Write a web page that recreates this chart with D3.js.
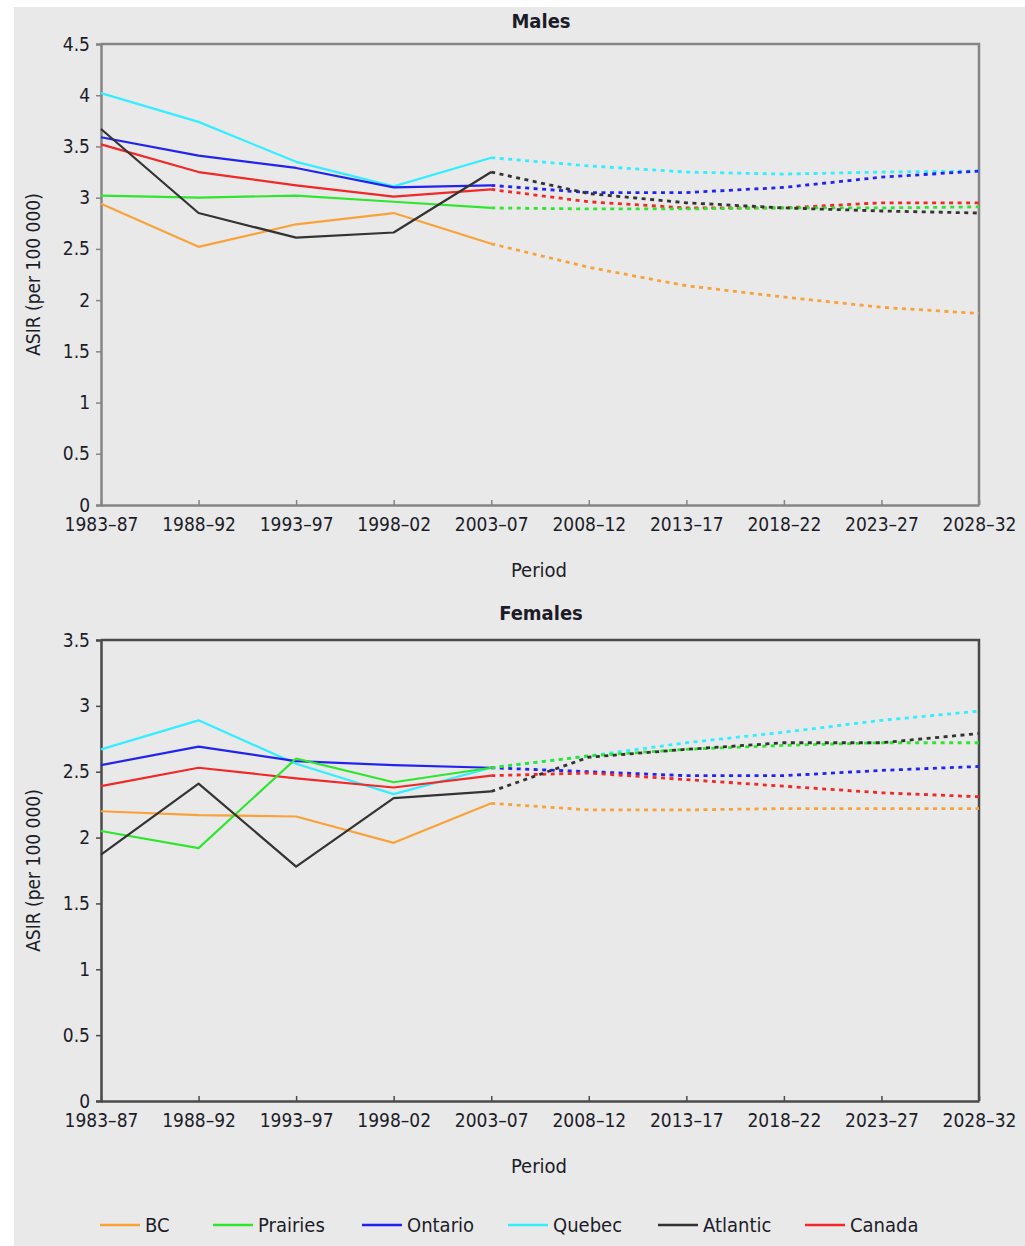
<!DOCTYPE html>
<html>
<head>
<meta charset="utf-8">
<script src="https://cdn.jsdelivr.net/npm/d3@7/dist/d3.min.js"></script>
<style>
  html, body { margin: 0; padding: 0; background: #ffffff; }
  svg { display: block; }
  text { font-family: "Liberation Sans Narrow", "DejaVu Sans Condensed", sans-serif; fill: #1c1c28; }
</style>
</head>
<body>
<svg id="chart" width="1025" height="1246"></svg>
<script>
// Periods on the x axis; the first five are observed, the rest projected
const periods = ["1983–87", "1988–92", "1993–97", "1998–02", "2003–07",
                 "2008–12", "2013–17", "2018–22", "2023–27", "2028–32"];
const observedCount = 5;

const regions = ["BC", "Prairies", "Ontario", "Quebec", "Atlantic", "Canada"];
const regionColors = ["#f9a23a", "#2ee62e", "#2323f0", "#33eeff", "#333333", "#f02828"];
// drawing order (last on top)
const drawOrder = ["BC", "Quebec", "Ontario", "Canada", "Prairies", "Atlantic"];

// Age-standardized incidence rate, males (per 100 000)
const malesBC       = [2.94, 2.52, 2.74, 2.85, 2.55, 2.32, 2.14, 2.03, 1.93, 1.87];
const malesPrairies = [3.02, 3.00, 3.02, 2.96, 2.90, 2.89, 2.89, 2.90, 2.90, 2.91];
const malesOntario  = [3.59, 3.41, 3.29, 3.10, 3.12, 3.05, 3.05, 3.10, 3.20, 3.26];
const malesQuebec   = [4.02, 3.74, 3.35, 3.11, 3.39, 3.31, 3.25, 3.23, 3.25, 3.26];
const malesAtlantic = [3.67, 2.85, 2.61, 2.66, 3.25, 3.04, 2.95, 2.90, 2.87, 2.85];
const malesCanada   = [3.52, 3.25, 3.12, 3.01, 3.08, 2.96, 2.90, 2.90, 2.95, 2.95];

// Age-standardized incidence rate, females (per 100 000)
const femalesBC       = [2.20, 2.17, 2.16, 1.96, 2.26, 2.21, 2.21, 2.22, 2.22, 2.22];
const femalesPrairies = [2.05, 1.92, 2.60, 2.42, 2.53, 2.62, 2.67, 2.70, 2.72, 2.72];
const femalesOntario  = [2.55, 2.69, 2.58, 2.55, 2.53, 2.50, 2.47, 2.47, 2.51, 2.54];
const femalesQuebec   = [2.67, 2.89, 2.56, 2.33, 2.53, 2.62, 2.72, 2.80, 2.89, 2.96];
const femalesAtlantic = [1.87, 2.41, 1.78, 2.30, 2.35, 2.61, 2.67, 2.72, 2.72, 2.79];
const femalesCanada   = [2.39, 2.53, 2.45, 2.38, 2.47, 2.49, 2.44, 2.39, 2.34, 2.31];

const malesTicks   = [0, 0.5, 1, 1.5, 2, 2.5, 3, 3.5, 4, 4.5];
const femalesTicks = [0, 0.5, 1, 1.5, 2, 2.5, 3, 3.5];

const malesSeries = {
  BC: malesBC, Prairies: malesPrairies, Ontario: malesOntario,
  Quebec: malesQuebec, Atlantic: malesAtlantic, Canada: malesCanada
};
const femalesSeries = {
  BC: femalesBC, Prairies: femalesPrairies, Ontario: femalesOntario,
  Quebec: femalesQuebec, Atlantic: femalesAtlantic, Canada: femalesCanada
};

const color = d3.scaleOrdinal().domain(regions).range(regionColors);

const svg = d3.select("#chart");

// light grey panel behind everything
svg.append("rect")
  .attr("x", 14).attr("y", 7).attr("width", 1011).attr("height", 1239)
  .attr("fill", "#e9e9e9");

const left = 101, right = 979;
const x = d3.scalePoint().domain(periods).range([left, right]).padding(0);

function drawPanel(opts) {
  const { title, series, ticks, top, bottom, frameColor, titleY } = opts;
  const y = d3.scaleLinear().domain([0, d3.max(ticks)]).range([bottom, top]);
  const g = svg.append("g");

  // title
  g.append("text")
    .attr("x", (left + right) / 2 + 1).attr("y", titleY)
    .attr("text-anchor", "middle")
    .attr("font-size", 20).attr("font-weight", "bold")
    .text(title);

  // frame (top and right edges)
  g.append("path")
    .attr("d", `M${left},${top}H${right}V${bottom}`)
    .attr("fill", "none").attr("stroke", frameColor).attr("stroke-width", 2.5);

  // y axis
  const yAxis = g.append("g")
    .attr("transform", `translate(${left},0)`)
    .call(d3.axisLeft(y).tickValues(ticks).tickSize(5).tickPadding(6)
      .tickFormat(d3.format("")));
  yAxis.select(".domain").attr("stroke", frameColor).attr("stroke-width", 2.5);
  yAxis.selectAll(".tick line").attr("stroke", frameColor).attr("stroke-width", 1.5);
  yAxis.selectAll(".tick text")
    .attr("font-size", 19).attr("font-family", null).attr("fill", "#1c1c28");

  // x axis: ticks point up into the plot
  const xAxis = g.append("g")
    .attr("transform", `translate(0,${bottom})`)
    .call(d3.axisBottom(x).tickSizeInner(-5).tickSizeOuter(0).tickPadding(10));
  xAxis.select(".domain").attr("stroke", frameColor).attr("stroke-width", 2.5);
  xAxis.selectAll(".tick line").attr("stroke", frameColor).attr("stroke-width", 1.5);
  xAxis.selectAll(".tick text")
    .attr("font-size", 19).attr("font-family", null).attr("fill", "#1c1c28")
    .attr("dy", "0.85em");

  // axis titles
  g.append("text")
    .attr("transform", `translate(40,${(top + bottom) / 2}) rotate(-90)`)
    .attr("text-anchor", "middle").attr("font-size", 19)
    .text("ASIR (per 100 000)");
  g.append("text")
    .attr("x", (left + right) / 2 - 1).attr("y", bottom + 72)
    .attr("text-anchor", "middle").attr("font-size", 20)
    .text("Period");

  const line = d3.line().x(d => x(d.p)).y(d => y(d.v));

  drawOrder.forEach(name => {
    const pts = series[name].map((v, i) => ({ p: periods[i], v }));
    // observed: solid
    g.append("path")
      .datum(pts.slice(0, observedCount))
      .attr("d", line)
      .attr("fill", "none").attr("stroke", color(name))
      .attr("stroke-width", 2.2).attr("stroke-linejoin", "round");
    // projected: dotted
    g.append("path")
      .datum(pts.slice(observedCount - 1))
      .attr("d", line)
      .attr("fill", "none").attr("stroke", color(name))
      .attr("stroke-width", 2.8).attr("stroke-dasharray", "4,4.5");
  });
}

drawPanel({ title: "Males", series: malesSeries, ticks: malesTicks,
            top: 44, bottom: 505, frameColor: "#858585", titleY: 28 });
drawPanel({ title: "Females", series: femalesSeries, ticks: femalesTicks,
            top: 640, bottom: 1101, frameColor: "#4a4a4a", titleY: 620 });

// legend
const legendX = [100, 213, 362, 508, 658, 805];
const legend = svg.append("g").attr("transform", "translate(0,1225)");
regions.forEach((name, i) => {
  const item = legend.append("g").attr("transform", `translate(${legendX[i]},0)`);
  item.append("line")
    .attr("x1", 0).attr("x2", 40).attr("y1", 0).attr("y2", 0)
    .attr("stroke", color(name)).attr("stroke-width", 2.5);
  item.append("text")
    .attr("x", 45).attr("y", 0).attr("dy", "0.35em")
    .attr("font-size", 20)
    .text(name);
});
</script>
</body>
</html>
